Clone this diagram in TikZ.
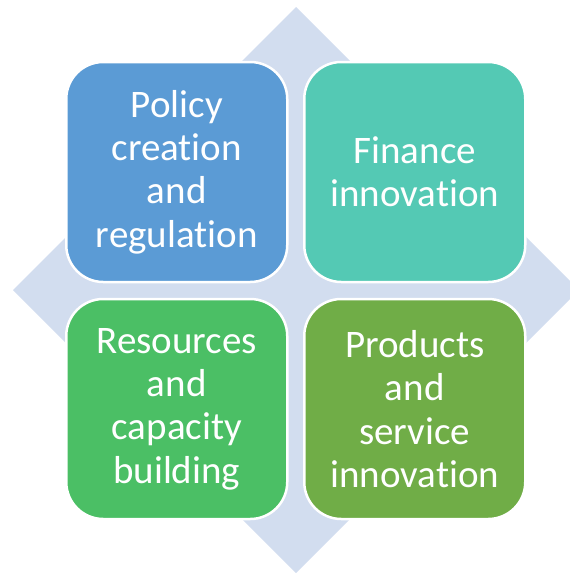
\documentclass[tikz,border=0pt]{standalone}
\usepackage{fontspec}
\setmainfont[Ligatures={NoCommon}]{Carlito}
\definecolor{diamondbg}{HTML}{D2DDEF}
\definecolor{tileblue}{HTML}{5B9BD5}
\definecolor{tileteal}{HTML}{54C9B4}
\definecolor{tilegreen}{HTML}{4BBF65}
\definecolor{tileolive}{HTML}{70AD47}
\begin{document}
\begin{tikzpicture}[x=1pt,y=-1pt,
  tile/.style={draw=white, line width=2.5pt, rounded corners=37pt,
    minimum width=221pt, minimum height=220pt, inner sep=0pt,
    text=white, text width=210pt, align=center,
    font=\fontsize{39}{43.3}\selectfont}]
  \useasboundingbox (0,0) rectangle (570,573);
  \begin{scope}
    \clip (0,0) rectangle (570,573);
    % background diamond
    \fill[diamondbg] (296,7) -- (579,290) -- (296,573) -- (13,290) -- cycle;
  \end{scope}
  % four quadrant tiles
  \node[tile, fill=tileblue]  (policy)   at (176.75,172)   {Policy\\creation\\and\\regulation};
  \node[tile, fill=tileteal]  (finance)  at (414.75,172)   {Finance\\innovation};
  \node[tile, fill=tilegreen] (resource) at (176.75,409)   {Resources\\and\\capacity\\building};
  \node[tile, fill=tileolive] (products) at (414.75,409)   {Products\\and\\service\\innovation};
\end{tikzpicture}
\end{document}
